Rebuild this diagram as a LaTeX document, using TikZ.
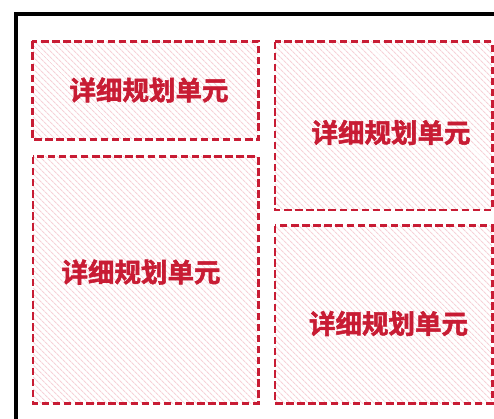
\documentclass[tikz,border=0pt]{standalone}
\usepackage{fontspec}
\newfontfamily\cjk{Noto Sans CJK SC}[BoldFont={Noto Sans CJK SC Bold}, BoldFeatures={FakeBold=2}]
\usetikzlibrary{patterns.meta}
\definecolor{unitred}{RGB}{200,28,52}
\definecolor{hatchpink}{RGB}{246,210,216}

\begin{document}
\begin{tikzpicture}[x=1pt, y=-1pt,
  unit/.style = {pattern={Lines[angle=-45, distance=4pt, line width=1.2pt]}, pattern color=hatchpink,
    inner sep=0pt},
  unitedge/.style = {draw=unitred, line width=2.6pt, dash pattern=on 7.5pt off 3.6pt},
  unitlabel/.style = {text=unitred, font=\cjk\bfseries\fontsize{26.5}{30}\selectfont, inner sep=0pt}]
  \useasboundingbox (0,0) rectangle (494,419);
  \clip (0,0) rectangle (494,419);
  \node (frame) [draw, line width=3.6pt, minimum width=520, minimum height=440, anchor=north west] at (14,12) {};

  \node (u1) [unit, minimum width=225, minimum height=97] at (145.5,90.5) {};
  \node (u2) [unit, minimum width=217, minimum height=168] at (383.5,126) {};
  \node (u3) [unit, minimum width=225, minimum height=246] at (145.5,280) {};
  \node (u4) [unit, minimum width=217, minimum height=177] at (383.5,314.5) {};
  \foreach \u in {u1,u2,u3,u4}
    \draw [unitedge] (\u.north west) rectangle (\u.south east);

  \node (t1) [unitlabel] at (149,90) {详细规划单元};
  \node (t2) [unitlabel] at (391,132.5) {详细规划单元};
  \node (t3) [unitlabel] at (141,272) {详细规划单元};
  \node (t4) [unitlabel] at (388.5,323.5) {详细规划单元};
\end{tikzpicture}
\end{document}
